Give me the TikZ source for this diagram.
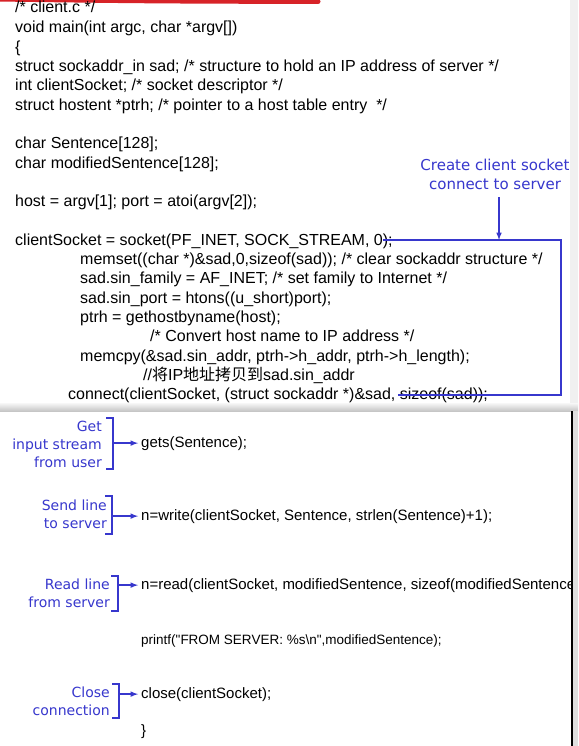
\documentclass[tikz,border=0pt]{standalone}
\usepackage{fontspec}
\setmainfont{Liberation Sans}
\newfontfamily\codefont{Liberation Sans}
\newfontfamily\notefont{DejaVu Sans}
\newfontfamily\cjkfont{Noto Sans CJK SC}
\usetikzlibrary{calc}
\definecolor{noteblue}{RGB}{55,55,205}
\definecolor{penred}{RGB}{215,35,40}

\begin{document}
\begin{tikzpicture}[x=1pt,y=-1pt,
  code/.style={anchor=base west,inner sep=0pt,font=\codefont\fontsize{16}{19}\selectfont},
  lowcode/.style={anchor=base west,inner sep=0pt,font=\codefont\fontsize{15}{18}\selectfont},
  note/.style={inner sep=0pt,align=right,text=noteblue,font=\notefont\fontsize{14}{18}\selectfont},
  pen/.style={noteblue,line width=1.5pt}]
  \useasboundingbox (0,0) rectangle (578,746);
  \fill[white] (0,0) rectangle (578,746);

  %% slide edges
  \fill[gray!12] (570,0) rectangle (578,404);
  \shade[top color=gray!6,bottom color=gray!45] (0,403) rectangle (578,411);
  \fill[gray!25] (572,411) rectangle (578,746);
  \draw[line width=2pt] (572,411) -- (572,746);
  \draw[penred,line width=5pt,line cap=round] (-4,-1) .. controls (150,1) .. (318,1.5);

  %% upper slide
  \node (head) [code] at (15,12.5) {/* client.c */};
  \node (main) [code] at (15,33) {void main(int argc, char *argv[])};
  \node (open) [code] at (15,52.3) {\{};
  \node (sad) [code] at (15,71.6) {struct sockaddr\_in sad; /* structure to hold an IP address of server */};
  \node (sockvar) [code] at (15,90.9) {int clientSocket; /* socket descriptor */};
  \node (ptrh) [code] at (15,110.2) {struct hostent *ptrh; /* pointer to a host table entry\ \ */};
  \node (sent) [code] at (15,148.8) {char Sentence[128];};
  \node (modsent) [code] at (15,168.1) {char modifiedSentence[128];};
  \node (host) [code] at (15,206.7) {host = argv[1]; port = atoi(argv[2]);};
  \node (socket) [code] at (15,245.3) {clientSocket = socket(PF\_INET, SOCK\_STREAM, 0);};
  \node (memset) [code] at (80,264.6) {memset((char *)\&sad,0,sizeof(sad)); /* clear sockaddr structure */};
  \node (family) [code] at (80,283.9) {sad.sin\_family = AF\_INET; /* set family to Internet */};
  \node (port) [code] at (80,303.2) {sad.sin\_port = htons((u\_short)port);};
  \node (lookup) [code] at (80,322.5) {ptrh = gethostbyname(host);};
  \node (convert) [code] at (150,341.8) {/* Convert host name to IP address */};
  \node (memcpy) [code] at (80,361.1) {memcpy(\&sad.sin\_addr, ptrh->h\_addr, ptrh->h\_length);};
  \node (cjkline) [code] at (143,380.4) {//{\cjkfont 将}IP{\cjkfont 地址拷贝到}sad.sin\_addr};
  \node (connect) [code] at (68,399.7) {connect(clientSocket, (struct sockaddr *)\&sad, sizeof(sad));};

  \node (create) [note,align=center,anchor=south,font=\notefont\fontsize{15}{19}\selectfont] at (495,190) {Create client socket\\connect to server};
  \coordinate (sockend) at (383,240);
  \coordinate (hit) at (499,240);
  \coordinate (frameSE) at (561,395);
  \coordinate (connend) at (398,395);
  \draw[pen] (sockend) -| (frameSE) -- (connend);
  \draw[pen,-latex] ($(hit |- create.south)+(0,7)$) -- (hit);

  %% lower slide
  \begin{scope}
    \clip (0,411) rectangle (571,746);
    \node (gets) [lowcode] at (141,447) {gets(Sentence);};
    \node (write) [lowcode] at (141,520) {n=write(clientSocket, Sentence, strlen(Sentence)+1);};
    \node (read) [lowcode] at (141,589) {n=read(clientSocket, modifiedSentence, sizeof(modifiedSentence));};
    \node (print) [code,font=\codefont\fontsize{13.5}{16}\selectfont] at (141,644) {printf("FROM SERVER: \%s\textbackslash n",modifiedSentence);};
    \node (close) [lowcode] at (141,698) {close(clientSocket);};
    \node (shut) [lowcode] at (141,735) {\}};
  \end{scope}

  \node (getnote) [note,anchor=east] at (102,444) {Get\\input stream\\from user};
  \node (sendnote) [note,anchor=east] at (107,514.5) {Send line\\to server};
  \node (readnote) [note,anchor=east] at (110,593.5) {Read line\\from server};
  \node (closenote) [note,anchor=east] at (110,701) {Close\\connection};

  %% brackets
  \coordinate (gettop) at (113,418);  \coordinate (getbot) at (113,469);
  \coordinate (sendtop) at (112,496); \coordinate (sendbot) at (112,534);
  \coordinate (readtop) at (118,576); \coordinate (readbot) at (118,611);
  \coordinate (closetop) at (119,684); \coordinate (closebot) at (119,718);
  \foreach \b in {get,send,read,close}
    \draw[pen] ($(\b top)+(-7,0)$) -- (\b top) -- (\b bot) -- ++(-7,0);

  \draw[pen,-latex,shorten >=3pt] (gets.west -| gettop) -- (gets.west);
  \draw[pen,-latex,shorten >=3pt] (write.west -| sendtop) -- (write.west);
  \draw[pen,-latex,shorten >=3pt] (read.west -| readtop) -- (read.west);
  \draw[pen,-latex,shorten >=3pt] (close.west -| closetop) -- (close.west);

\end{tikzpicture}
\end{document}
